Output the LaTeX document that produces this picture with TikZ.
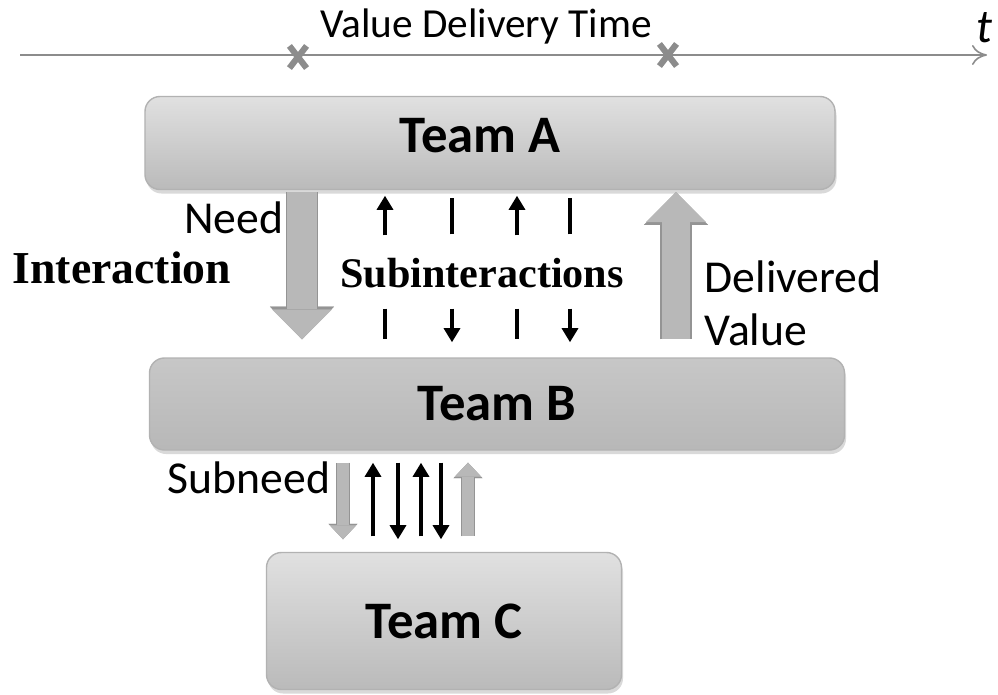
\documentclass[tikz,border=0pt]{standalone}
\usepackage{fontspec}
\setmainfont{Carlito}
\newfontfamily\timesbold{Liberation Serif}
\usetikzlibrary{arrows.meta,shadows,shapes.misc}

\begin{document}
\begin{tikzpicture}[x=0.2mm, y=-0.2mm, thick]

    \tikzset{block/.style={%
      draw=black!30,%
      rectangle,%
      rounded corners=3mm,%
      top color=black!12,%
      bottom color=black!27,%
      drop shadow={shadow xshift=0.3mm, shadow yshift=-0.8mm, opacity=0.3},%
      font=\fontsize{30}{36}\selectfont\bfseries}%
    };

    \tikzset{label/.style={inner sep=0pt, font=\fontsize{26}{30}\selectfont}};

    \tikzset{bigarrow/.style={%
      line width=17pt,%
      draw=black!28,%
      -{Triangle[width=34pt, length=17pt, line width=0.1pt]},%
      preaction={draw=black!42, line width=18.6pt,%
        -{Triangle[width=36.5pt, length=18.6pt, line width=0.1pt]}}}%
    };

    \tikzset{smallgray/.style={%
      line width=6.5pt,%
      draw=black!28,%
      -{Triangle[width=15pt, length=8pt, line width=0.1pt]},%
      preaction={draw=black!42, line width=7.8pt,%
        -{Triangle[width=16.5pt, length=8.8pt, line width=0.1pt]}}}%
    };

    \tikzset{smallarrow/.style={line width=2pt, -{Triangle[width=9pt, length=8pt]}}};

    \tikzset{xmark/.style={cross out, draw=black!45, line width=3.5pt,%
      minimum width=2.2mm, minimum height=3.2mm, inner sep=0pt}};

    \useasboundingbox (0,0) rectangle (998,695);

    %%%%%%%%%%%%
    % timeline %
    %%%%%%%%%%%%
    \path (20,55) coordinate (tstart);
    \path (987,55) coordinate (tend);
    \draw [black!45, line width=0.9pt, -{To[length=3mm, width=4mm]}] (tstart) -- (tend);

    \path (298,57) node [xmark] (mark1) {};
    \path (668,55) node [xmark] (mark2) {};

    \path (486,26) node [font=\fontsize{23.5}{28}\selectfont] (vdt) {Value Delivery Time};
    \path (984,28) node [font=\fontsize{27}{30}\selectfont\itshape] (tlabel) {t};

    %%%%%%%%%
    % teams %
    %%%%%%%%%
    \path (490,143) node [block, minimum width=138mm, minimum height=18.6mm,
      text depth=3.2mm] (teamA) {Team A\hspace*{4mm}};

    \path (497,404) node [block, minimum width=139mm, minimum height=18.4mm,
      top color=black!22, bottom color=black!28] (teamB) {Team B};

    \path (444,621) node [block, minimum width=71mm, minimum height=27.4mm] (teamC) {Team C};

    %%%%%%%%%%
    % labels %
    %%%%%%%%%%
    \path (284,218) node [label, anchor=east] (need) {Need};

    \path (12,268) node [anchor=west, inner sep=0pt,
      font=\fontsize{26}{30}\selectfont\timesbold\bfseries] (inter) {Interaction};

    \path (482,273) node [minimum height=12.8mm,
      font=\fontsize{24}{28}\selectfont\timesbold\bfseries] (sub) {Subinteractions};

    \path (704,303) node [label, anchor=west, align=left] (delv) {Delivered\\Value};

    \path (331,478) node [label, anchor=east] (subneed) {Subneed};

    %%%%%%%%%%%%%%%%
    % interactions %
    %%%%%%%%%%%%%%%%
    \path (302,0) coordinate (needx);
    \path (676,0) coordinate (delvx);

    \draw [bigarrow, shorten <=0.4mm, shorten >=3.6mm] (needx |- teamA.south) -- (needx |- teamB.north);
    \draw [bigarrow, line width=15.5pt, shorten <=3.6mm, shorten >=0.4mm] (delvx |- teamB.north) -- (delvx |- teamA.south);

    \path (385,0) coordinate (sa);
    \path (452,0) coordinate (sb);
    \path (517,0) coordinate (sc);
    \path (570,0) coordinate (sd);

    \draw [smallarrow, shorten <=1mm, shorten >=1.1mm] (sa |- sub.north) -- (sa |- teamA.south);
    \draw [line width=2pt, shorten <=1.2mm, shorten >=1.5mm] (sb |- sub.north) -- (sb |- teamA.south);
    \draw [smallarrow, shorten <=1mm, shorten >=1.1mm] (sc |- sub.north) -- (sc |- teamA.south);
    \draw [line width=2pt, shorten <=1.2mm, shorten >=1.5mm] (sd |- sub.north) -- (sd |- teamA.south);

    \draw [line width=2pt, shorten <=0.6mm, shorten >=3.6mm] (sa |- sub.south) -- (sa |- teamB.north);
    \draw [smallarrow, shorten <=0.6mm, shorten >=3mm] (sb |- sub.south) -- (sb |- teamB.north);
    \draw [line width=2pt, shorten <=0.6mm, shorten >=3.6mm] (sc |- sub.south) -- (sc |- teamB.north);
    \draw [smallarrow, shorten <=0.6mm, shorten >=3mm] (sd |- sub.south) -- (sd |- teamB.north);

    %%%%%%%%%%%%%%%%%%%
    % subinteractions %
    %%%%%%%%%%%%%%%%%%%
    \path (343,0) coordinate (ba);
    \path (373,0) coordinate (bb);
    \path (398,0) coordinate (bc);
    \path (421,0) coordinate (bd);
    \path (441,0) coordinate (be);
    \path (468,0) coordinate (bf);

    \draw [smallgray, shorten <=2.4mm, shorten >=2.5mm] (ba |- teamB.south) -- (ba |- teamC.north);
    \draw [smallarrow, line width=2.4pt, shorten <=3.1mm, shorten >=2.4mm] (bb |- teamC.north) -- (bb |- teamB.south);
    \draw [smallarrow, line width=2.4pt, shorten <=2.4mm, shorten >=2.5mm] (bc |- teamB.south) -- (bc |- teamC.north);
    \draw [smallarrow, line width=2.4pt, shorten <=3.1mm, shorten >=2.4mm] (bd |- teamC.north) -- (bd |- teamB.south);
    \draw [smallarrow, line width=2.4pt, shorten <=2.4mm, shorten >=2.5mm] (be |- teamB.south) -- (be |- teamC.north);
    \draw [smallgray, shorten <=3.1mm, shorten >=2.4mm] (bf |- teamC.north) -- (bf |- teamB.south);

  \end{tikzpicture}
\end{document}
